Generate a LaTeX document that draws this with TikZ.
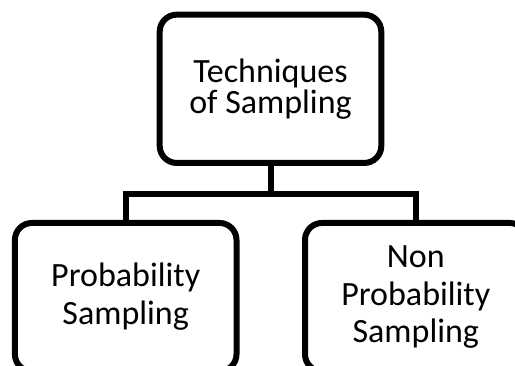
\documentclass[tikz,border=0pt]{standalone}
\usepackage{fontspec}
\setmainfont{Carlito}
\begin{document}
\begin{tikzpicture}[x=1pt,y=-1pt,
  box/.style={draw=black,line width=6pt,rounded corners=17pt,minimum width=221.6pt,minimum height=148.3pt,align=center,inner sep=0pt,text=black},
  link/.style={draw=black,line width=6pt}]
\useasboundingbox (0,0) rectangle (515,365);
\clip (0,0) rectangle (515,365);
\node[box,font=\fontsize{34}{31}\selectfont] (top) at (270.5,88.8) {Techniques\\of Sampling};
\node[box,font=\fontsize{34}{38}\selectfont] (left) at (125.7,297.1) {Probability\\Sampling};
\node[box,font=\fontsize{34}{37.5}\selectfont] (right) at (415.8,297.1) {Non\\Probability\\Sampling};
\coordinate (j) at (270.5,193.6);
\draw[link] (top.south) -- (j);
\draw[link] (left.north) |- (j) -| (right.north);
\end{tikzpicture}
\end{document}
